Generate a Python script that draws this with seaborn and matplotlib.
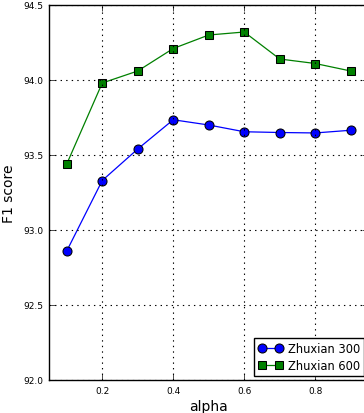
import numpy as np
import pandas as pd
import matplotlib
matplotlib.use('Agg')
import matplotlib.pyplot as plt
import seaborn as sns

alpha = [0.1, 0.2, 0.3, 0.4, 0.5, 0.6, 0.7, 0.8, 0.9]
zhuxian_300 = [92.86, 93.33, 93.54, 93.735, 93.70, 93.655, 93.65, 93.647, 93.665]
zhuxian_600 = [93.44, 93.98, 94.06, 94.21, 94.30, 94.32, 94.14, 94.11, 94.06]

plt.style.use('classic')
plt.rcParams['font.family'] = ['DejaVu Sans']

fig = plt.figure(figsize=(3.64, 4.14), dpi=100)
ax = fig.add_axes([0.1346, 0.0797, 0.8777, 0.9058])

sns.lineplot(x=alpha, y=zhuxian_300, ax=ax, color='blue', marker='o', markersize=6.5,
             markeredgecolor='black', markerfacecolor='blue', linewidth=0.9, label='Zhuxian 300')
sns.lineplot(x=alpha, y=zhuxian_600, ax=ax, color='green', marker='s', markersize=6,
             markeredgecolor='black', markerfacecolor='green', linewidth=0.9, label='Zhuxian 600')

ax.set_xlim(0.05, 0.95)
ax.set_ylim(92.0, 94.5)
ax.set_xticks([0.2, 0.4, 0.6, 0.8])
ax.set_yticks([92.0, 92.5, 93.0, 93.5, 94.0, 94.5])
ax.set_yticklabels(['92.0', '92.5', '93.0', '93.5', '94.0', '94.5'])
ax.tick_params(labelsize=6.5, pad=4)
ax.grid(True, linestyle=':', color='black', linewidth=0.8)
ax.set_xlabel('alpha', fontsize=10, labelpad=3)
ax.set_ylabel('F1 score', fontsize=10, labelpad=5)

leg = ax.legend(loc='lower right', fontsize=8.3, numpoints=2, borderaxespad=0.35,
                handlelength=2.1, handletextpad=0.5, borderpad=0.35, labelspacing=0.35)
leg.get_frame().set_edgecolor('black')

fig.savefig('out.png', dpi=100)
